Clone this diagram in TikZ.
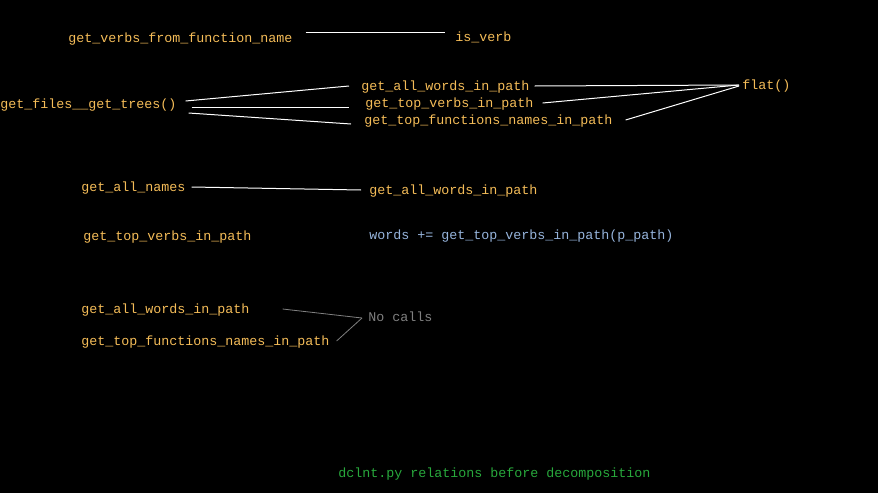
\documentclass[tikz,border=0pt]{standalone}
\usepackage{fontspec}
\setmonofont{Liberation Mono}
\usetikzlibrary{calc}
\definecolor{fnorange}{RGB}{244,188,88}
\definecolor{codeblue}{RGB}{150,180,220}
\definecolor{nocallgray}{RGB}{128,128,128}
\definecolor{titlegreen}{RGB}{40,168,60}
\tikzset{fn/.style={anchor=west,inner sep=0pt,text height=8pt,text depth=1.5pt,font=\ttfamily\fontsize{10}{12}\selectfont,text=fnorange}}
\tikzset{link/.style={draw=white,line width=0.75pt}}
\tikzset{graylink/.style={draw=nocallgray,line width=0.6pt}}

\begin{document}
\begin{tikzpicture}[x=0.75pt,y=-0.75pt]
  \fill[black] (0,0) rectangle (878,493);
  \useasboundingbox (0,0) rectangle (878,493);

  \node[fn] (verbsname) at (68,38) {get\_verbs\_from\_function\_name};
  \node[fn] (isverb) at (455,37) {is\_verb};
  \draw[link] ([shift={(13,-6)}]verbsname.east) -- ([shift={(-10,-5)}]isverb.west);

  \node[fn] (files) at (0,104) {get\_files\_\_get\_trees()};
  \node[fn] (words1) at (361,86) {get\_all\_words\_in\_path};
  \node[fn] (verbs1) at (365,103) {get\_top\_verbs\_in\_path};
  \node[fn] (funcs1) at (364,120) {get\_top\_functions\_names\_in\_path};
  \node[fn] (flat) at (742,85) {flat()};
  \draw[link] ([shift={(9,-3)}]files.east) -- ([shift={(-12,0)}]words1.west);
  \draw[link] ([shift={(15,3)}]files.east) -- ([shift={(-16,4)}]verbs1.west);
  \draw[link] ([shift={(12,9)}]files.east) -- ([shift={(-13,4)}]funcs1.west);
  \draw[link] ([shift={(5,0)}]words1.east) -- ([shift={(-3,0)}]flat.west);
  \draw[link] ([shift={(9,0)}]verbs1.east) -- ([shift={(-3,0)}]flat.west);
  \draw[link] ([shift={(13,0)}]funcs1.east) -- ([shift={(-3,1)}]flat.west);

  \node[fn] (allnames) at (81,187) {get\_all\_names};
  \node[fn] (words2) at (369,190) {get\_all\_words\_in\_path};
  \draw[link] ([shift={(6,0)}]allnames.east) -- ([shift={(-8,0)}]words2.west);

  \node[fn] (verbs2) at (83,236) {get\_top\_verbs\_in\_path};
  \node[fn,text=codeblue] (wordscall) at (369,235) {words += get\_top\_verbs\_in\_path(p\_path)};

  \node[fn] (words3) at (81,309) {get\_all\_words\_in\_path};
  \node[fn] (funcs3) at (81,341) {get\_top\_functions\_names\_in\_path};
  \node[fn,text=nocallgray] (nocalls) at (368,317) {No calls};
  \draw[graylink] ([shift={(33,0)}]words3.east) -- ([shift={(-6,1)}]nocalls.west);
  \draw[graylink] ([shift={(7,0)}]funcs3.east) -- ([shift={(-6,1)}]nocalls.west);

  \node[fn,text=titlegreen] (caption) at (338,473) {dclnt.py relations before decomposition};
\end{tikzpicture}
\end{document}
